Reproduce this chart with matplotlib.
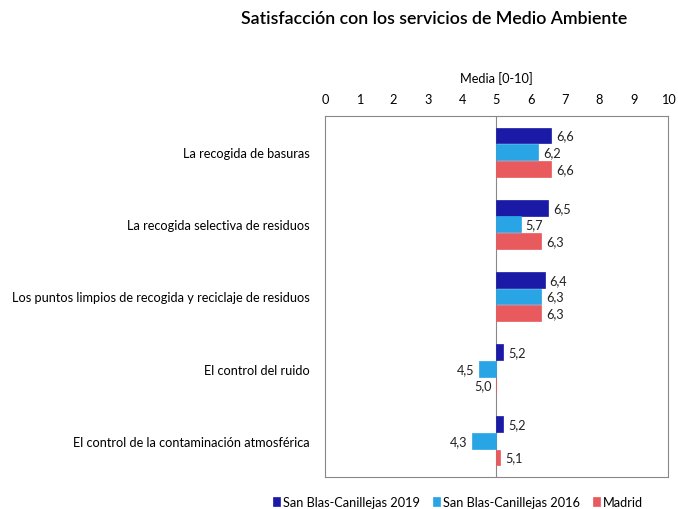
import matplotlib
matplotlib.use("Agg")
import matplotlib.pyplot as plt
import numpy as np

plt.rcParams['font.family'] = ['Lato', 'DejaVu Sans']

categories = ["La recogida de basuras",
              "La recogida selectiva de residuos",
              "Los puntos limpios de recogida y reciclaje de residuos",
              "El control del ruido",
              "El control de la contaminación atmosférica"]
series_names = ["San Blas-Canillejas 2019", "San Blas-Canillejas 2016", "Madrid"]
v2019 = [6.6, 6.5, 6.4, 5.2, 5.2]
v2016 = [6.2, 5.7, 6.3, 4.5, 4.3]
vmad = [6.6, 6.3, 6.3, 5.0, 5.1]
colors = ["#1a1aa6", "#29a5e6", "#e85a5e"]
base = 5.0

W, H = 678, 510
fig = plt.figure(figsize=(W/100, H/100), dpi=100)
ax = fig.add_axes([325/W, 1-478/H, (668-325)/W, (478-117)/H])

n = len(categories)
y = np.arange(n)
off = [-0.23, 0.0, 0.23]
h = 0.22
fs = 9.2
for k, (vals, col) in enumerate(zip([v2019, v2016, vmad], colors)):
    for i, v in enumerate(vals):
        ax.barh(y[i] + off[k], v - base, left=base, height=h, color=col,
                edgecolor=col, linewidth=0.5, label=series_names[k] if i == 0 else None)
        txt = f"{v:.1f}".replace(".", ",")
        if v > base:
            ax.text(v + 0.15, y[i] + off[k], txt, va='center', ha='left', fontsize=fs, color='#222222')
        else:
            ax.text(v - 0.15, y[i] + off[k], txt, va='center', ha='right', fontsize=fs, color='#222222')

ax.axvline(base, color='#888888', linewidth=0.8, zorder=0)
ax.set_xlim(0, 10)
ax.set_ylim(n - 0.5, -0.5)
ax.set_xticks(range(0, 11))
ax.xaxis.tick_top()
ax.xaxis.set_label_position('top')
ax.set_xlabel("Media [0-10]", fontsize=fs, labelpad=8)
ax.tick_params(axis='x', length=0, labelsize=fs, pad=8)
ax.set_yticks(y)
ax.set_yticklabels(categories, fontsize=fs)
ax.tick_params(axis='y', length=0, pad=11)
for s in ax.spines.values():
    s.set_color('#888888')
    s.set_linewidth(0.8)

fig.text(434/W, 1-19/H, "Satisfacción con los servicios de Medio Ambiente",
         ha='center', va='center', fontsize=12.8, fontweight='semibold')

handles, labels = ax.get_legend_handles_labels()
fig.legend(handles, labels, loc='center', bbox_to_anchor=(458/W, 1-503/H), ncol=3,
           frameon=False, fontsize=fs, handlelength=0.6, handleheight=0.6,
           handletextpad=0.2, columnspacing=1.0)

fig.savefig("out.png", dpi=100)
